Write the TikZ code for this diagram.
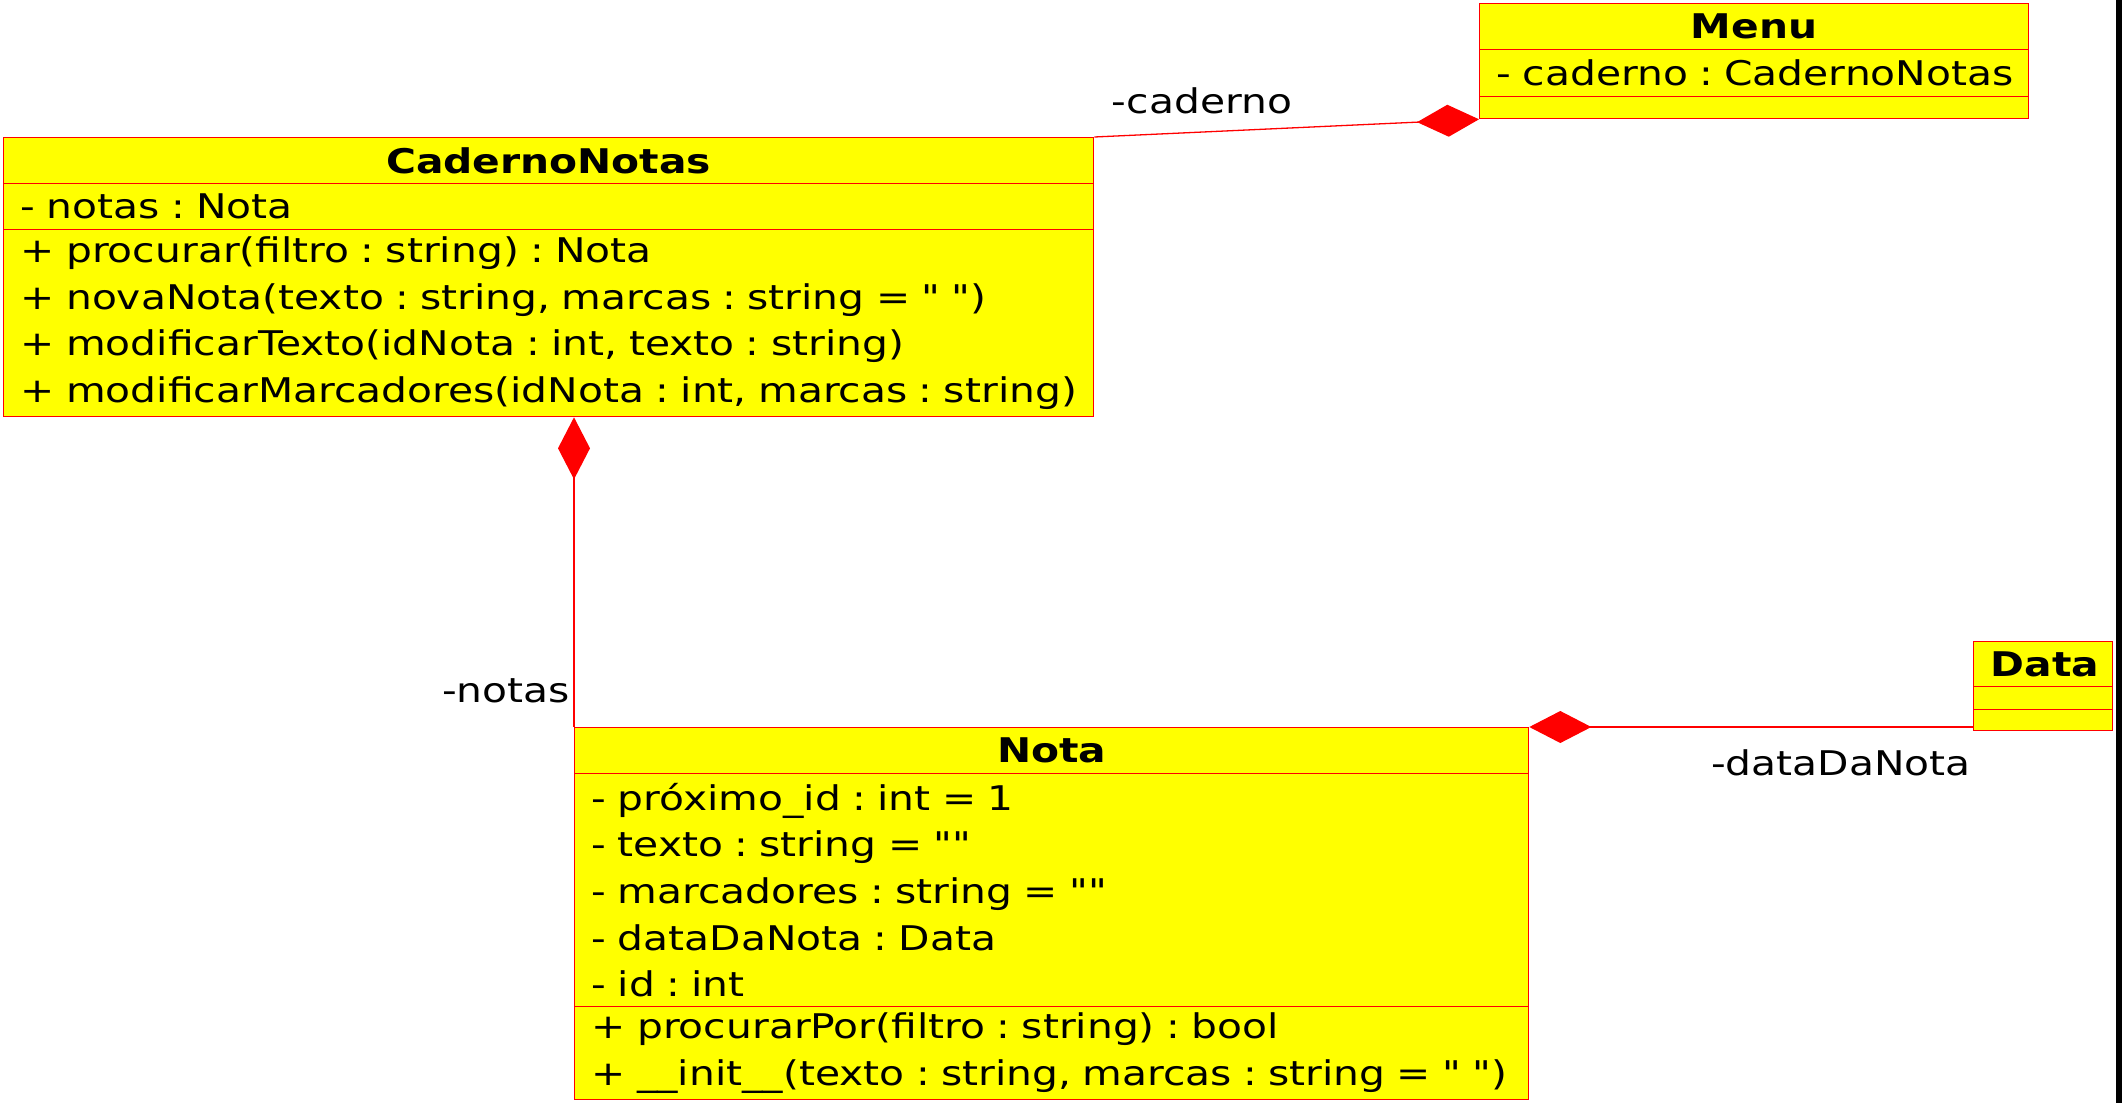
\documentclass[tikz,border=0pt]{standalone}
\usepackage{fontspec}
\setmainfont{DejaVu Sans}[FakeStretch=1.2, Ligatures=TeXOff]
\usetikzlibrary{arrows.meta}
\definecolor{umlyellow}{RGB}{255,255,0}
\definecolor{umlred}{RGB}{255,0,0}
\newcommand{\rowtxt}[1]{\mbox{#1}}
\tikzset{
  comp/.style={draw=umlred, fill=umlyellow, line width=1.3pt, anchor=north west,
    inner xsep=17pt, inner ysep=0pt, align=left,
    font=\fontsize{34}{46.6}\selectfont\frenchspacing,
    execute at begin node={\hbadness=10000\hfuzz=100pt}},
  head/.style={comp, align=center, font=\fontsize{34}{46.6}\selectfont\bfseries},
  conn/.style={draw=umlred, line width=1.3pt},
  compo/.style={conn, {Diamond[length=62pt,width=32pt,fill=umlred]}-},
  lab/.style={font=\fontsize{34}{40}\selectfont, inner sep=0pt}
}
\begin{document}
\begin{tikzpicture}[x=1pt,y=-1pt]
\useasboundingbox (0,0) rectangle (2122,1103);
\fill[black] (2116,0) rectangle (2122,1103);
% Menu
\node[head, minimum width=549pt, minimum height=46pt, text width=515pt] (mh) at (1479,3) {Menu};
\node[comp, minimum width=549pt, minimum height=47pt, text width=515pt] (ma) at (1479,49) {\rowtxt{- caderno : CadernoNotas}};
\node[comp, minimum width=549pt, minimum height=22pt, text width=515pt] (mo) at (1479,96) {};
% CadernoNotas
\node[head, minimum width=1090pt, minimum height=46pt, text width=1056pt] (ch) at (3,137) {CadernoNotas};
\node[comp, minimum width=1090pt, minimum height=46pt, text width=1056pt] (ca) at (3,183) {\rowtxt{- notas : Nota}};
\node[comp, minimum width=1090pt, minimum height=187pt, text width=1056pt] (cm) at (3,229) {\rowtxt{+ procurar(filtro : string) : Nota}\\\rowtxt{+ novaNota(texto : string, marcas : string = " ")}\\\rowtxt{+ modificarTexto(idNota : int, texto : string)}\\\rowtxt{+ modificarMarcadores(idNota : int, marcas : string)}};
% Nota
\node[head, minimum width=954pt, minimum height=46pt, text width=920pt] (nh) at (574,727) {Nota};
\node[comp, minimum width=954pt, minimum height=233pt, text width=920pt] (na) at (574,773) {\rowtxt{- próximo\_id : int = 1}\\\rowtxt{- texto : string = ""}\\\rowtxt{- marcadores : string = ""}\\\rowtxt{- dataDaNota : Data}\\\rowtxt{- id : int}};
\node[comp, minimum width=954pt, minimum height=93pt, text width=920pt] (nm) at (574,1006) {\rowtxt{+ procurarPor(filtro : string) : bool}\\\rowtxt{+ \_\_init\_\_(texto : string, marcas : string = " ")}};
% Data
\node[head, minimum width=139pt, minimum height=45pt, text width=105pt] (dh) at (1973,641) {Data};
\node[comp, minimum width=139pt, minimum height=23pt, text width=105pt] (da) at (1973,686) {};
\node[comp, minimum width=139pt, minimum height=21pt, text width=105pt] (do) at (1973,709) {};
% connectors
\draw[compo] (mo.south west) -- (ch.north east);
\draw[compo] (nh.north west |- cm.south) -- (nh.north west);
\draw[compo] (nh.north east) -- (nh.north east -| dh.west);
% labels
\node[lab] (lcad) at (1202,101) {-caderno};
\node[lab, anchor=east] (lnot) at (570,691) {-notas};
\node[lab] (ldat) at (1841,763) {-dataDaNota};
\end{tikzpicture}
\end{document}
